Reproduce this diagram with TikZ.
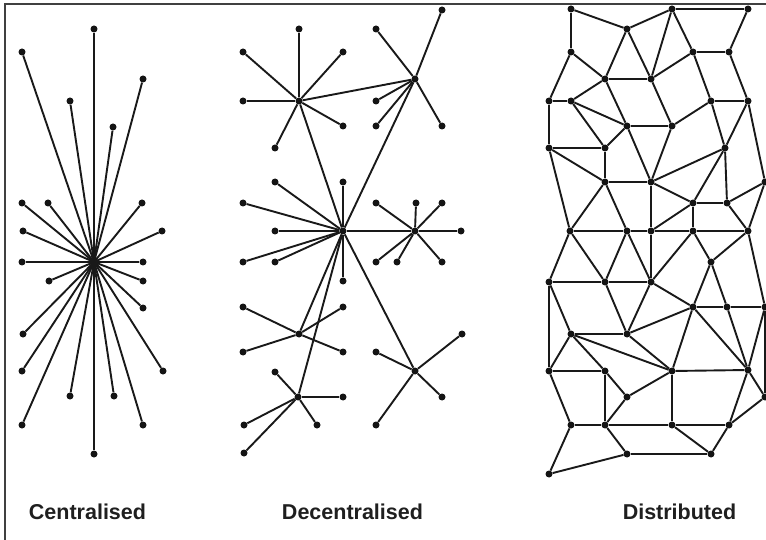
\documentclass[tikz,border=0pt]{standalone}
\usepackage{fontspec}
\setmainfont{Liberation Sans}
\begin{document}
\begin{tikzpicture}[x=1pt,y=-1pt,
  dot/.style={circle,fill=black!92,inner sep=0pt,minimum size=7pt},
  link/.style={line width=1.9pt,black!90},
  frame/.style={line width=1.2pt,black!75},
  lbl/.style={font=\fontsize{21.5}{25}\selectfont\bfseries,anchor=base,text=black!88}]
\useasboundingbox (0,0) rectangle (766,540);
\fill[white] (0,0) rectangle (766,540);
\coordinate (ftl) at (5,4);
\coordinate (fbl) at (5,540);
\coordinate (ftr) at (766,4);
\draw[frame] (fbl) -- (ftl) -- (ftr);

% ---------------- Centralised ----------------
\node[dot] (cc) at (94,262) {};
\foreach \i/\x/\y in {1/94/29,2/22/52,3/143/79,4/70/101,5/113/127,6/22/203,7/48/203,
  8/142/203,9/23/231,10/162/231,11/22/262,12/143/262,13/49/281,14/143/281,15/143/308,
  16/23/334,17/22/371,18/163/371,19/70/396,20/114/396,21/22/425,22/143/425,23/94/454}
  {\node[dot] (cl\i) at (\x,\y) {}; \draw[link] (cc.center) -- (cl\i);}

% ---------------- Decentralised ----------------
\foreach \n/\x/\y in {hA/299/101,hB/415/79,hC/343/231,hD/415/231,hE/299/334,hF/298/397,hG/415/371}
  {\node[dot] (\n) at (\x,\y) {};}
\foreach \a/\b in {hA/hB,hA/hC,hB/hC,hC/hD,hC/hE,hC/hF,hC/hG}
  {\draw[link] (\a) -- (\b);}
\foreach \h/\i/\x/\y in {hA/1/299/29,hA/2/243/52,hA/3/343/52,hA/4/243/101,hA/5/343/126,hA/6/275/148,
  hB/1/442/10,hB/2/376/29,hB/3/376/101,hB/4/376/126,hB/5/442/126,
  hC/1/275/182,hC/2/343/182,hC/3/243/203,hC/4/275/231,hC/5/243/262,hC/6/275/262,hC/7/343/281,
  hD/1/376/203,hD/2/416/203,hD/3/442/203,hD/4/461/231,hD/5/376/262,hD/6/397/262,hD/7/442/262,
  hE/1/243/307,hE/2/343/307,hE/3/243/352,hE/4/343/352,
  hF/1/275/372,hF/2/343/397,hF/3/244/425,hF/4/317/425,hF/5/244/453,
  hG/1/462/334,hG/2/376/352,hG/3/442/397,hG/4/376/425}
  {\node[dot] (\h l\i) at (\x,\y) {}; \draw[link] (\h) -- (\h l\i);}

% ---------------- Distributed ----------------
\foreach \n/\x/\y in {a1/571/9,a2/672/9,a3/748/9,a4/627/29,a5/571/52,a6/693/52,a7/729/52,
  a8/605/79,a9/651/79,a10/549/101,a11/571/101,a12/711/101,a13/748/101,a14/627/126,
  a15/672/126,a16/549/148,a17/605/148,a18/725/148,
  b1/605/182,b2/651/182,b3/693/203,b4/727/203,b5/765/182,b6/570/231,b7/627/231,
  b8/651/231,b9/693/231,b10/748/231,b11/711/262,b12/549/282,b13/605/282,b14/651/282,
  b15/693/307,b16/727/307,b17/765/307,
  c1/571/334,c2/627/334,c3/549/371,c4/605/371,c5/672/371,c6/748/370,c7/765/397,
  c8/627/397,c9/571/425,c10/605/425,c11/672/425,c12/729/425,c13/627/454,c14/711/454,
  c15/549/474}
  {\node[dot] (\n) at (\x,\y) {};}
\foreach \a/\b in {a1/a5,a1/a4,a4/a2,a2/a3,a3/a7,a7/a6,a2/a9,a2/a6,a4/a8,a4/a9,a5/a8,
  a5/a10,a8/a9,a8/a11,a8/a14,a9/a6,a9/a15,a10/a11,a10/a16,a11/a14,a11/a17,a14/a15,
  a14/a17,a15/a12,a12/a13,a6/a12,a12/a18,a7/a13,a13/a18,a13/b5,a16/a17,a16/b6,a16/b1,
  a17/b1,a14/b2,a15/b2,a18/b2,a18/b3,a18/b4,
  b1/b2,b1/b6,b1/b7,b2/b8,b2/b3,b3/b4,b3/b9,b3/b8,b4/b10,b5/b10,b4/b5,b6/b7,b7/b8,
  b8/b9,b9/b10,b6/b12,b6/b13,b7/b13,b7/b14,b8/b14,b9/b14,b9/b11,b10/b11,b10/b17,
  b11/b15,b11/b16,b12/b13,b13/b14,b14/b15,b15/b16,b16/b17,
  b12/c3,b12/c1,b13/c2,b14/c2,c2/b15,b15/c5,b15/c6,b16/c6,b17/c6,b17/c7,
  c1/c2,c1/c3,c1/c4,c1/c5,c2/c5,c3/c4,c3/c9,c4/c10,c4/c8,c5/c8,c5/c6,c5/c11,c6/c7,
  c6/c12,c7/c12,c8/c10,c9/c10,c10/c11,c10/c13,c11/c14,c11/c12,c12/c14,c13/c14,
  c13/c15,c9/c15}
  {\draw[link] (\a) -- (\b);}

% ---------------- Labels ----------------
\node[lbl] (t1) at (87.5,519) {Centralised};
\node[lbl] (t2) at (352.5,519) {Decentralised};
\node[lbl] (t3) at (679.5,519) {Distributed};
\end{tikzpicture}
\end{document}
